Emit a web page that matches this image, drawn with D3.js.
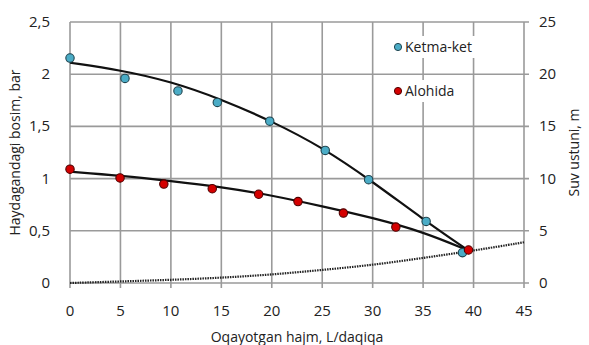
<!DOCTYPE html>
<html>
<head>
<meta charset="utf-8">
<script src="https://cdn.jsdelivr.net/npm/d3@7"></script>
<style>
  body { margin: 0; background: #fff; }
  text { font-family: "Open Sans", "Liberation Sans", sans-serif; }
</style>
</head>
<body>
<script>
  // flow L/min and pressure bar
  const ketmaX = [0, 5.45, 10.7, 14.6, 19.8, 25.3, 29.6, 35.3, 38.9];
  const ketmaY = [2.155, 1.96, 1.84, 1.73, 1.55, 1.27, 0.99, 0.59, 0.29];
  const alohidaX = [0, 4.96, 9.3, 14.1, 18.7, 22.6, 27.1, 32.3, 39.5];
  const alohidaY = [1.09, 1.006, 0.948, 0.903, 0.85, 0.78, 0.67, 0.536, 0.316];
  // trend lines
  const ketmaTrendX = [0, 5, 10, 15, 20, 25, 30, 35, 39.5];
  const ketmaTrendY = [2.11, 2.04, 1.93, 1.76, 1.55, 1.30, 0.97, 0.61, 0.31];
  const alohidaTrendX = [0, 5, 10, 15, 20, 25, 30, 35, 39.5];
  const alohidaTrendY = [1.066, 1.028, 0.977, 0.92, 0.84, 0.735, 0.625, 0.49, 0.31];
  // system curve (dotted)
  const tizimX = [0, 5, 10, 15, 20, 25, 30, 35, 40, 45];
  const tizimY = [0, 0.015, 0.03, 0.05, 0.08, 0.125, 0.172, 0.24, 0.31, 0.39];

  const xTicks = [0, 5, 10, 15, 20, 25, 30, 35, 40, 45];
  const yTicks = [0, 0.5, 1, 1.5, 2, 2.5];
  const y2Ticks = [0, 5, 10, 15, 20, 25];

  const W = 589, H = 345;
  const margin = {top: 22, right: 65, bottom: 62, left: 70};
  const width = W - margin.left - margin.right;
  const height = H - margin.top - margin.bottom;

  const svg = d3.select("body").append("svg")
      .attr("width", W).attr("height", H);
  const g = svg.append("g")
      .attr("transform", "translate(" + margin.left + "," + margin.top + ")");

  const x = d3.scaleLinear().domain([0, 45]).range([0, width]);
  const y = d3.scaleLinear().domain([0, 2.5]).range([height, 0]);
  const y2 = d3.scaleLinear().domain([0, 25]).range([height, 0]);
  const fmt = d => String(d).replace(".", ",");
  const grid = "#9a9a9a";

  // grid
  g.selectAll(".vg").data(xTicks).enter().append("line")
      .attr("x1", d => x(d)).attr("x2", d => x(d))
      .attr("y1", 0).attr("y2", height + 5)
      .attr("stroke", grid).attr("stroke-width", 1.6);
  g.selectAll(".hg").data(yTicks).enter().append("line")
      .attr("x1", 0).attr("x2", width + 5)
      .attr("y1", d => y(d)).attr("y2", d => y(d))
      .attr("stroke", grid).attr("stroke-width", 1.6);

  // tick labels
  g.selectAll(".xl").data(xTicks).enter().append("text")
      .attr("x", d => x(d)).attr("y", height + 33)
      .attr("text-anchor", "middle").attr("font-size", 15).attr("fill", "#222")
      .text(d => d);
  g.selectAll(".yl").data(yTicks).enter().append("text")
      .attr("x", -20).attr("y", d => y(d) + 5)
      .attr("text-anchor", "end").attr("font-size", 15).attr("fill", "#222")
      .text(fmt);
  g.selectAll(".y2l").data(y2Ticks).enter().append("text")
      .attr("x", width + 15).attr("y", d => y2(d) + 5)
      .attr("text-anchor", "start").attr("font-size", 15).attr("fill", "#222")
      .text(d => d);

  // axis titles
  svg.append("text")
      .attr("transform", "translate(20," + (margin.top + height / 2) + ") rotate(-90)")
      .attr("text-anchor", "middle").attr("font-size", 14).attr("fill", "#222")
      .attr("font-family", "Liberation Sans, Arial, sans-serif")
      .text("Haydagandagi bosim, bar");
  svg.append("text")
      .attr("transform", "translate(579," + (margin.top + height / 2) + ") rotate(-90)")
      .attr("text-anchor", "middle").attr("font-size", 14).attr("fill", "#222")
      .attr("font-family", "Liberation Sans, Arial, sans-serif")
      .text("Suv ustuni, m");
  svg.append("text")
      .attr("x", margin.left + x(22.5)).attr("y", 342)
      .attr("text-anchor", "middle").attr("font-size", 14).attr("fill", "#222")
      .attr("font-family", "Liberation Sans, Arial, sans-serif")
      .text("Oqayotgan hajm, L/daqiqa");

  // lines
  const line = d3.line().x(d => x(d[0])).y(d => y(d[1])).curve(d3.curveBasis);
  g.append("path").datum(d3.zip(tizimX, tizimY))
      .attr("d", line).attr("fill", "none")
      .attr("stroke", "#222").attr("stroke-width", 2.2).attr("stroke-dasharray", "1.5,1");
  g.append("path").datum(d3.zip(ketmaTrendX, ketmaTrendY))
      .attr("d", line).attr("fill", "none").attr("stroke", "#111").attr("stroke-width", 2.2);
  g.append("path").datum(d3.zip(alohidaTrendX, alohidaTrendY))
      .attr("d", line).attr("fill", "none").attr("stroke", "#111").attr("stroke-width", 2.2);

  // points
  const blue = "#4bacc6", red = "#d40000";
  g.selectAll(".kp").data(d3.zip(ketmaX, ketmaY)).enter().append("circle")
      .attr("cx", d => x(d[0])).attr("cy", d => y(d[1])).attr("r", 4.2)
      .attr("fill", blue).attr("stroke", "#1f4550").attr("stroke-width", 1.1);
  g.selectAll(".ap").data(d3.zip(alohidaX, alohidaY)).enter().append("circle")
      .attr("cx", d => x(d[0])).attr("cy", d => y(d[1])).attr("r", 4.2)
      .attr("fill", red).attr("stroke", "#500000").attr("stroke-width", 1.1);

  // legend
  const legend = [["Ketma-ket", blue, "#1f4550", 47], ["Alohida", red, "#500000", 91]];
  legend.forEach(l => {
    svg.append("rect").attr("x", 391).attr("y", l[3] - 11)
        .attr("width", l[0].length * 8.6 + 16).attr("height", 22).attr("fill", "#fff");
    svg.append("circle").attr("cx", 398).attr("cy", l[3]).attr("r", 3.6)
        .attr("fill", l[1]).attr("stroke", l[2]).attr("stroke-width", 1);
    svg.append("text").attr("x", 405).attr("y", l[3] + 5)
        .attr("font-size", 14).attr("fill", "#222")
        .attr("font-family", "Liberation Sans, Arial, sans-serif")
        .text(l[0]);
  });
</script>
</body>
</html>
